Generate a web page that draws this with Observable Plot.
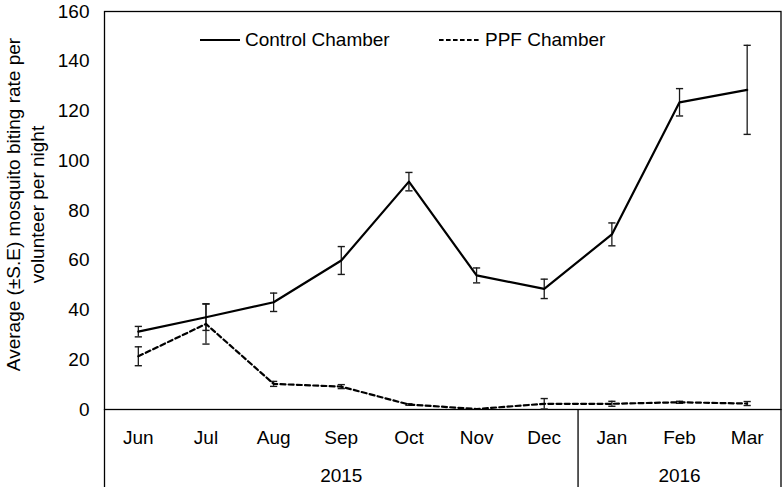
<!DOCTYPE html>
<html><head><meta charset="utf-8">
<script src="https://cdn.jsdelivr.net/npm/d3@7"></script>
<script src="https://cdn.jsdelivr.net/npm/@observablehq/plot@0.6"></script>
<style>
body{margin:0;background:#fff;}
#wrap{position:relative;width:782px;height:487px;font-family:"Liberation Sans",Arial,sans-serif;color:#000;}
#wrap svg.plot{position:absolute;left:0;top:0;}
.leg{position:absolute;display:flex;align-items:center;font-size:19px;height:24px;white-space:nowrap;}
.leg span{margin-left:4px;}
</style></head><body>
<div id="wrap">
  <div class="leg" style="left:200px;top:28px;"><svg width="41" height="24"><line x1="0" x2="40" y1="12" y2="12" stroke="#000" stroke-width="2.2"/></svg><span>Control Chamber</span></div>
  <div class="leg" style="left:439px;top:28px;"><svg width="42" height="24"><line x1="0" x2="42" y1="12" y2="12" stroke="#000" stroke-width="2.2" stroke-dasharray="4.6,2.4"/></svg><span>PPF Chamber</span></div>
</div>
<script>
// ---- data ----
const months = ["Jun", "Jul", "Aug", "Sep", "Oct", "Nov", "Dec", "Jan", "Feb", "Mar"];
const controlMean = [31.3, 37.1, 43.1, 59.9, 91.6, 53.9, 48.5, 70.4, 123.5, 128.5];
const controlSE   = [2.1, 5.3, 3.7, 5.6, 3.7, 3.0, 3.9, 4.6, 5.5, 17.9];
const ppfMean     = [21.4, 34.4, 10.3, 9.2, 2.0, 0.2, 2.3, 2.3, 2.9, 2.4];
const ppfSE       = [3.8, 8.1, 1.0, 0.8, 0.3, 0, 2.1, 1.0, 0.4, 0.8];
const years      = ["2015", "2016"];
const yearStart  = [0, 7];
const yearEnd    = [7, 10];
const yTicks     = [0, 20, 40, 60, 80, 100, 120, 140, 160];
const yLabel = "Average (\u00B1S.E) mosquito biting rate per\nvolunteer per night";

// ---- derived tables ----
const rows = months.map((m, i) => ({
  pos: i + 0.5, month: m,
  c: controlMean[i], cse: controlSE[i],
  p: ppfMean[i], pse: ppfSE[i]
}));
const errRows = [];
rows.forEach(r => {
  errRows.push({pos: r.pos, lo: r.c - r.cse, hi: r.c + r.cse});
  if (r.pse > 0) errRows.push({pos: r.pos, lo: r.p - r.pse, hi: r.p + r.pse});
});
const caps = errRows.flatMap(e => [{pos: e.pos, y: e.lo}, {pos: e.pos, y: e.hi}]);
const monthPos = rows.map(r => r.pos);
const yearMid = years.map((y, i) => (yearStart[i] + yearEnd[i]) / 2);
const bounds = [0, ...yearEnd];

const capSymbol = {
  draw(ctx, size) {
    const w = Math.sqrt(size / Math.PI);
    ctx.moveTo(-w, 0);
    ctx.lineTo(w, 0);
  }
};

const chart = Plot.plot({
  width: 782,
  height: 487,
  marginLeft: 104,
  marginRight: 1.5,
  marginTop: 11,
  marginBottom: 78,
  style: {fontFamily: "'Liberation Sans', Arial, sans-serif", fontSize: "19px", background: "transparent", color: "#000", overflow: "visible"},
  x: {type: "linear", domain: [0, 10]},
  y: {domain: [0, 160]},
  marks: [
    Plot.frame({stroke: "#000", strokeWidth: 1.3}),
    Plot.axisY(yTicks, {tickSize: 0, tickPadding: 15, label: null, fontSize: 19}),
    Plot.axisX(monthPos, {tickSize: 0, tickPadding: 21, label: null, fontSize: 19,
      tickFormat: d => months[monthPos.indexOf(d)]}),
    Plot.axisX(yearMid, {tickSize: 0, tickPadding: 59, label: null, fontSize: 19,
      tickFormat: d => years[yearMid.indexOf(d)]}),
    Plot.axisX(bounds, {tickSize: 78, tickFormat: () => "", label: null, stroke: "#000", strokeWidth: 1.3}),
    Plot.text([yLabel], {text: d => d, frameAnchor: "left", rotate: -90, dx: -80, dy: -6,
      lineHeight: 1.24, textAnchor: "middle", fontSize: 19, fill: "#000"}),
    Plot.ruleX(errRows, {x: "pos", y1: "lo", y2: "hi", stroke: "#1a1a1a", strokeWidth: 1.3}),
    Plot.dot(caps, {x: "pos", y: "y", symbol: capSymbol, r: 3.6, fill: "none", stroke: "#1a1a1a", strokeWidth: 1.4}),
    Plot.line(rows, {x: "pos", y: "c", stroke: "#000", strokeWidth: 2.2}),
    Plot.line(rows, {x: "pos", y: "p", stroke: "#000", strokeWidth: 2.2, strokeDasharray: "5,3.2"})
  ]
});
chart.classList.add("plot");
document.getElementById("wrap").appendChild(chart);
</script>
</body></html>
